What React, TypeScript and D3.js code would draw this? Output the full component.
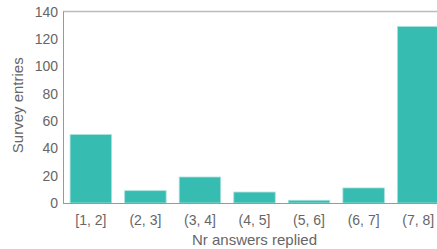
import { useEffect, useRef } from 'react';
import * as d3 from 'd3';

const categories = ['[1, 2]', '(2, 3]', '(3, 4]', '(4, 5]', '(5, 6]', '(6, 7]', '(7, 8]'];
const entries = [50, 9, 19, 8, 2, 11, 129];
const yTicks = [0, 20, 40, 60, 80, 100, 120, 140];

const W = 437;
const H = 249;

const App = () => {
  const svgRef = useRef<SVGSVGElement>(null);

  useEffect(() => {
    const svg = d3.select(svgRef.current);
    svg.selectAll('*').remove();

    const left = 63;
    const right = 446; // plot runs a little past the window edge
    const top = 11.5;
    const bottom = 203;
    const font = '"Liberation Sans", Arial, sans-serif';
    const textColor = '#666';

    const x = d3.scaleBand<string>()
      .domain(categories)
      .range([left, right])
      .paddingInner(0.24)
      .paddingOuter(0.13);

    const y = d3.scaleLinear().domain([0, 140]).range([bottom, top]);

    // frame lines
    svg.append('line')
      .attr('x1', left).attr('x2', W)
      .attr('y1', top).attr('y2', top)
      .attr('stroke', '#bbb').attr('stroke-width', 1.5);
    svg.append('line')
      .attr('x1', left + 0.5).attr('x2', left + 0.5)
      .attr('y1', top).attr('y2', bottom)
      .attr('stroke', '#999').attr('stroke-width', 1);

    // bars
    svg.selectAll('rect.bar')
      .data(entries)
      .enter()
      .append('rect')
      .attr('class', 'bar')
      .attr('x', (_, i) => x(categories[i]) as number)
      .attr('y', (d) => y(d))
      .attr('width', x.bandwidth())
      .attr('height', (d) => bottom - y(d))
      .attr('fill', '#37bcb2')
      .attr('stroke', '#a8e0db')
      .attr('stroke-width', 0.8);

    svg.append('line')
      .attr('x1', left).attr('x2', W)
      .attr('y1', bottom + 0.5).attr('y2', bottom + 0.5)
      .attr('stroke', '#999').attr('stroke-width', 1);

    // y tick labels
    svg.selectAll('text.ytick')
      .data(yTicks)
      .enter()
      .append('text')
      .attr('class', 'ytick')
      .attr('x', left - 5)
      .attr('y', (d) => y(d))
      .attr('dy', '0.36em')
      .attr('text-anchor', 'end')
      .attr('fill', textColor)
      .style('font-family', font)
      .style('font-size', '14px')
      .text((d) => d);

    // x tick labels
    svg.selectAll('text.xtick')
      .data(categories)
      .enter()
      .append('text')
      .attr('class', 'xtick')
      .attr('x', (d) => (x(d) as number) + x.bandwidth() / 2)
      .attr('y', 220)
      .attr('dy', '0.36em')
      .attr('text-anchor', 'middle')
      .attr('fill', textColor)
      .style('font-family', font)
      .style('font-size', '14px')
      .text((d) => d);

    // axis titles
    svg.append('text')
      .attr('x', (left + right) / 2)
      .attr('y', 240)
      .attr('dy', '0.36em')
      .attr('text-anchor', 'middle')
      .attr('fill', textColor)
      .style('font-family', font)
      .style('font-size', '15px')
      .text('Nr answers replied');

    svg.append('text')
      .attr('transform', `translate(18, ${(top + bottom) / 2 - 2}) rotate(-90)`)
      .attr('dy', '0.36em')
      .attr('text-anchor', 'middle')
      .attr('fill', textColor)
      .style('font-family', font)
      .style('font-size', '15px')
      .text('Survey entries');
  }, []);

  return (
    <svg
      ref={svgRef}
      width={W}
      height={H}
      style={{ position: 'fixed', left: 0, top: 0, background: '#fff' }}
    />
  );
};

export default App;
